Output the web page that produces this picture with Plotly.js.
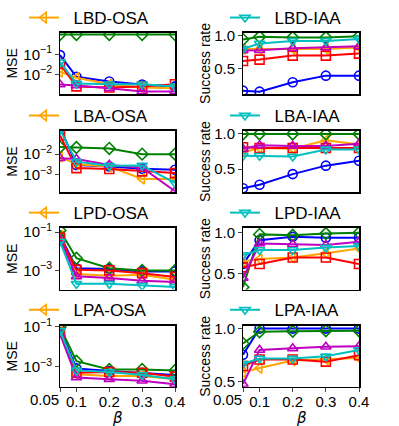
<!DOCTYPE html>
<html>
<head>
<meta charset="utf-8">
<script src="https://cdn.plot.ly/plotly-3.0.1.min.js"></script>
<style>html,body{margin:0;padding:0;background:#fff;}#chart{width:399px;height:426px;}</style>
</head>
<body>
<div id="chart"></div>
<script>
// ---------- data ----------
const beta = [0.05, 0.1, 0.2, 0.3, 0.4];
const xTickVals = [0.1, 0.2, 0.3, 0.4];
const xTickText = ["0.1", "0.2", "0.3", "0.4"];
const xFirstTick = 0.05;
const xFirstTickText = "0.05";
const xLabel = "<i>β</i>";

const panelNames = ["LBD-OSA", "LBD-IAA", "LBA-OSA", "LBA-IAA", "LPD-OSA", "LPD-IAA", "LPA-OSA", "LPA-IAA"];

// MSE panels (left column)
const mseLBD_blue    = [0.093, 0.0076, 0.0044, 0.0031, 0.0025];
const mseLBD_orange  = [0.0135, 0.0068, 0.0032, 0.0022, 0.002];
const mseLBD_green   = [1.0, 1.0, 1.0, 1.0, 1.0];
const mseLBD_red     = [0.033, 0.0025, 0.0022, 0.0025, 0.0032];
const mseLBD_magenta = [0.0031, 0.0028, 0.002, 0.0014, 0.0014];
const mseLBD_cyan    = [0.042, 0.0035, 0.0032, 0.0032, 0.0025];

const mseLBA_blue    = [0.2, 0.003, 0.0025, 0.00195, 0.00174];
const mseLBA_orange  = [0.0074, 0.0032, 0.0025, 0.00063, 0.00063];
const mseLBA_green   = [0.022, 0.021, 0.019, 0.01, 0.01];
const mseLBA_red     = [0.08, 0.0021, 0.0019, 0.00145, 0.0012];
const mseLBA_magenta = [0.0063, 0.0058, 0.003, 0.0022, 0.00016];
const mseLBA_cyan    = [0.15, 0.0043, 0.0027, 0.0028, 0.0004];

const mseLPD_blue    = [0.068, 0.0013, 0.00117, 0.00089, 0.00089];
const mseLPD_orange  = [0.063, 0.00065, 0.00052, 0.0006, 0.00033];
const mseLPD_green   = [0.12, 0.0043, 0.0013, 0.001, 0.001];
const mseLPD_red     = [0.05, 0.00107, 0.001, 0.00072, 0.00046];
const mseLPD_magenta = [0.04, 0.00049, 0.0004, 0.00029, 0.00025];
const mseLPD_cyan    = [0.032, 0.0002, 0.0002, 0.00016, 0.000138];

const mseLPA_blue    = [0.079, 0.00083, 0.00062, 0.0005, 0.00039];
const mseLPA_orange  = [0.056, 0.00042, 0.00035, 0.00035, 0.00024];
const mseLPA_green   = [0.1, 0.0019, 0.00074, 0.00074, 0.00066];
const mseLPA_red     = [0.05, 0.0005, 0.00055, 0.0005, 0.00032];
const mseLPA_magenta = [0.045, 0.00029, 0.00024, 0.0002, 0.000135];
const mseLPA_cyan    = [0.063, 0.00066, 0.00055, 0.00039, 0.00024];

// Success-rate panels (right column)
const srLBD_blue    = [0.175, 0.16, 0.3, 0.40, 0.40];
const srLBD_orange  = [0.8, 0.8, 0.8, 0.8, 0.82];
const srLBD_green   = [0.94, 0.98, 0.97, 0.97, 0.99];
const srLBD_red     = [0.62, 0.64, 0.7, 0.7, 0.73];
const srLBD_magenta = [0.775, 0.78, 0.81, 0.82, 0.84];
const srLBD_cyan    = [0.8, 0.88, 0.92, 0.92, 0.95];

const srLBA_blue    = [0.23, 0.28, 0.43, 0.55, 0.62];
const srLBA_orange  = [0.74, 0.8, 0.79, 0.91, 0.85];
const srLBA_green   = [1.0, 1.0, 1.0, 1.0, 1.0];
const srLBA_red     = [0.81, 0.8, 0.8, 0.8, 0.8];
const srLBA_magenta = [0.79, 0.84, 0.83, 0.83, 0.86];
const srLBA_cyan    = [0.69, 0.69, 0.68, 0.78, 0.78];

const srLPD_blue    = [0.62, 0.91, 0.95, 0.94, 0.94];
const srLPD_orange  = [0.65, 0.68, 0.70, 0.75, 0.81];
const srLPD_green   = [0.34, 0.98, 0.97, 0.99, 1.0];
const srLPD_red     = [0.58, 0.62, 0.70, 0.70, 0.62];
const srLPD_magenta = [0.45, 0.87, 0.86, 0.85, 0.89];
const srLPD_cyan    = [0.73, 0.79, 0.79, 0.82, 0.84];

const srLPA_blue    = [0.755, 1.0, 1.0, 1.0, 1.0];
const srLPA_orange  = [0.59, 0.63, 0.7, 0.71, 0.725];
const srLPA_green   = [0.86, 0.97, 0.975, 0.98, 0.98];
const srLPA_red     = [0.65, 0.71, 0.71, 0.69, 0.75];
const srLPA_magenta = [0.48, 0.8, 0.815, 0.83, 0.835];
const srLPA_cyan    = [0.67, 0.72, 0.72, 0.74, 0.8];

const mseTickVals = [[0.1, 0.01], [0.01, 0.001], [0.1, 0.001], [0.1, 0.001]];
const mseTickText = [["10<sup>−1</sup>", "10<sup>−2</sup>"], ["10<sup>−2</sup>", "10<sup>−3</sup>"],
                     ["10<sup>−1</sup>", "10<sup>−3</sup>"], ["10<sup>−1</sup>", "10<sup>−3</sup>"]];
const srTickVals = [0.5, 1.0];
const srTickText = ["0.5", "1.0"];

// ---------- styling ----------
const W = 399, H = 426;
const FONT = "Liberation Sans, Arial, sans-serif";
const styles = {
  blue:    {color: "#0000ff", symbol: "circle-open"},
  orange:  {color: "#ffa500", symbol: "triangle-left-open"},
  green:   {color: "#008000", symbol: "diamond-open"},
  red:     {color: "#ff0000", symbol: "square-open"},
  magenta: {color: "#bf00bf", symbol: "triangle-up-open"},
  cyan:    {color: "#00bfbf", symbol: "triangle-down-open"}
};
const order = ["blue", "orange", "green", "red", "magenta", "cyan"];

const panels = [
  {blue: mseLBD_blue, orange: mseLBD_orange, green: mseLBD_green, red: mseLBD_red, magenta: mseLBD_magenta, cyan: mseLBD_cyan},
  {blue: srLBD_blue, orange: srLBD_orange, green: srLBD_green, red: srLBD_red, magenta: srLBD_magenta, cyan: srLBD_cyan},
  {blue: mseLBA_blue, orange: mseLBA_orange, green: mseLBA_green, red: mseLBA_red, magenta: mseLBA_magenta, cyan: mseLBA_cyan},
  {blue: srLBA_blue, orange: srLBA_orange, green: srLBA_green, red: srLBA_red, magenta: srLBA_magenta, cyan: srLBA_cyan},
  {blue: mseLPD_blue, orange: mseLPD_orange, green: mseLPD_green, red: mseLPD_red, magenta: mseLPD_magenta, cyan: mseLPD_cyan},
  {blue: srLPD_blue, orange: srLPD_orange, green: srLPD_green, red: srLPD_red, magenta: srLPD_magenta, cyan: srLPD_cyan},
  {blue: mseLPA_blue, orange: mseLPA_orange, green: mseLPA_green, red: mseLPA_red, magenta: mseLPA_magenta, cyan: mseLPA_cyan},
  {blue: srLPA_blue, orange: srLPA_orange, green: srLPA_green, red: srLPA_red, magenta: srLPA_magenta, cyan: srLPA_cyan}
];

// pixel layout
const colX = [[60, 175], [243, 359]];
const rowY = [[25, 88], [125, 188], [224, 287], [324, 386]];
const mseRanges = [[-3.0, 0.1], [-3.86, -0.86], [-4.0, -0.78], [-4.0, -0.95]];
const srRanges = [[0.12, 1.045], [0.17, 1.046], [0.31, 1.06], [0.455, 1.025]];
const legendY = [10, 110, 209, 308];
const legendX = [24, 225];

const traces = [];
const annotations = [];
const layout = {
  width: W, height: H,
  margin: {l: 0, r: 0, t: 0, b: 0},
  paper_bgcolor: "#fff", plot_bgcolor: "#fff",
  font: {family: FONT, color: "#000", size: 15},
  showlegend: true,
  annotations: annotations
};

for (let i = 0; i < 8; i++) {
  const row = Math.floor(i / 2), col = i % 2;
  const n = i + 1;
  const sfx = n === 1 ? "" : String(n);
  const xa = "xaxis" + sfx;
  const ya = "yaxis" + sfx;
  const lg = "legend" + sfx;
  const legendKey = col === 0 ? "orange" : "cyan";
  order.forEach(k => {
    traces.push({
      type: "scatter", mode: "lines+markers",
      x: beta, y: panels[i][k],
      xaxis: "x" + sfx, yaxis: "y" + sfx,
      name: k === legendKey ? "\u00a0\u00a0" + panelNames[i] : k,
      legend: lg,
      showlegend: k === legendKey,
      line: {color: styles[k].color, width: 2},
      marker: {symbol: styles[k].symbol, size: 9, color: styles[k].color, line: {width: 1.6, color: styles[k].color}},
      hoverinfo: "skip"
    });
  });
  const bottom = row === 3;
  layout[xa] = {
    domain: [colX[col][0] / W, colX[col][1] / W],
    anchor: "y" + sfx,
    range: [0.05, 0.4], type: "linear",
    tickmode: "array", tickvals: bottom ? [xFirstTick].concat(xTickVals) : [],
    ticktext: bottom ? [""].concat(xTickText) : [],
    tickangle: 0, ticklabelstandoff: -3,
    showticklabels: bottom, ticks: bottom ? "outside" : "", ticklen: 3.5, tickwidth: 1,
    tickfont: {size: 15, family: FONT},
    showline: true, linecolor: "#000", linewidth: 1.5, mirror: true,
    showgrid: false, zeroline: false
  };
  if (bottom) {
    annotations.push({
      xref: "x" + sfx, yref: "y" + sfx + " domain",
      x: xFirstTick, y: 0, xanchor: "right", yanchor: "top",
      yshift: -2, xshift: 1,
      text: xFirstTickText, showarrow: false,
      font: {size: 15, family: FONT, color: "#000"}
    });
    annotations.push({
      xref: "x" + sfx + " domain", yref: "paper",
      x: 0.5, y: 1 - 418 / H, xanchor: "center", yanchor: "middle",
      text: xLabel, showarrow: false,
      font: {size: 15, family: "DejaVu Sans", color: "#000"}
    });
  }
  const isMSE = col === 0;
  layout[ya] = {
    domain: [1 - rowY[row][1] / H, 1 - rowY[row][0] / H],
    anchor: "x" + sfx,
    type: isMSE ? "log" : "linear",
    range: isMSE ? mseRanges[row] : srRanges[row],
    tickmode: "array",
    tickvals: isMSE ? mseTickVals[row] : srTickVals,
    ticktext: isMSE ? mseTickText[row] : srTickText,
    tickangle: 0,
    ticks: "outside", ticklen: 3.5, tickwidth: 1,
    tickfont: {size: 15, family: FONT},
    showline: true, linecolor: "#000", linewidth: 1.5, mirror: true,
    showgrid: false, zeroline: false,
    title: {text: isMSE ? "MSE" : "Success rate", font: {size: 14, family: FONT}, standoff: isMSE ? 2 : 0}
  };
  layout[lg] = {
    x: legendX[col] / W, xanchor: "left",
    y: 1 - legendY[row] / H, yanchor: "middle",
    bgcolor: "rgba(0,0,0,0)", borderwidth: 0,
    font: {size: 17, family: FONT},
    itemwidth: 30
  };
}

Plotly.newPlot("chart", traces, layout, {staticPlot: true, displayModeBar: false});
</script>
</body>
</html>
